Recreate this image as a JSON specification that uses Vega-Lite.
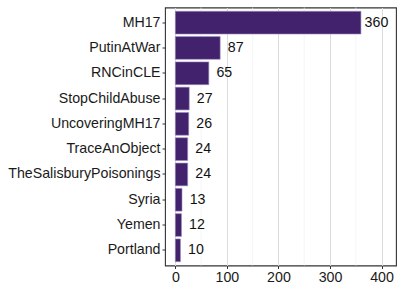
{
  "$schema": "https://vega.github.io/schema/vega-lite/v6.json",
  "autosize": {"type": "none"},
  "padding": {"left": 165, "top": 7.5, "right": 11, "bottom": 40.5},
  "width": 231,
  "height": 258,
  "background": "white",
  "config": {
    "view": {"stroke": "#333333", "strokeWidth": 1.1},
    "font": "Liberation Sans",
    "axis": {
      "labelFont": "Liberation Sans",
      "labelFontSize": 14.2,
      "labelColor": "#1a1a1a",
      "tickColor": "#333333",
      "tickSize": 3,
      "domain": false,
      "title": null
    }
  },
  "datasets": {
    "bars": [
      {"hashtag": "MH17", "count": 360},
      {"hashtag": "PutinAtWar", "count": 87},
      {"hashtag": "RNCinCLE", "count": 65},
      {"hashtag": "StopChildAbuse", "count": 27},
      {"hashtag": "UncoveringMH17", "count": 26},
      {"hashtag": "TraceAnObject", "count": 24},
      {"hashtag": "TheSalisburyPoisonings", "count": 24},
      {"hashtag": "Syria", "count": 13},
      {"hashtag": "Yemen", "count": 12},
      {"hashtag": "Portland", "count": 10}
    ],
    "minor": [{"v": 50}, {"v": 150}, {"v": 250}, {"v": 350}]
  },
  "layer": [
    {
      "data": {"name": "minor"},
      "mark": {"type": "rule", "color": "#f0f0f0", "strokeWidth": 0.7},
      "encoding": {
        "x": {"field": "v", "type": "quantitative", "scale": {"domain": [-20, 428], "nice": false, "zero": false}}
      }
    },
    {
      "data": {"name": "bars"},
      "mark": {"type": "bar", "color": "#42226d", "stroke": "#a090c0", "strokeWidth": 0.6},
      "encoding": {
        "y": {
          "field": "hashtag", "type": "nominal", "sort": {"field": "count", "order": "descending"},
          "scale": {"paddingInner": 0.1, "paddingOuter": 0.15},
          "axis": {"labelPadding": 2, "grid": false}
        },
        "x": {
          "field": "count", "type": "quantitative",
          "scale": {"domain": [-20, 428], "nice": false, "zero": false},
          "axis": {"values": [0, 100, 200, 300, 400], "grid": true, "gridColor": "#dcdcdc", "gridWidth": 1, "labelPadding": 2, "labelFlush": false}
        }
      }
    },
    {
      "data": {"name": "bars"},
      "mark": {"type": "text", "align": "center", "baseline": "middle", "dx": 15.5, "fontSize": 14.2, "color": "#111111", "font": "Liberation Sans"},
      "encoding": {
        "y": {"field": "hashtag", "type": "nominal", "sort": {"field": "count", "order": "descending"}},
        "x": {"field": "count", "type": "quantitative"},
        "text": {"field": "count", "type": "quantitative"}
      }
    }
  ]
}
